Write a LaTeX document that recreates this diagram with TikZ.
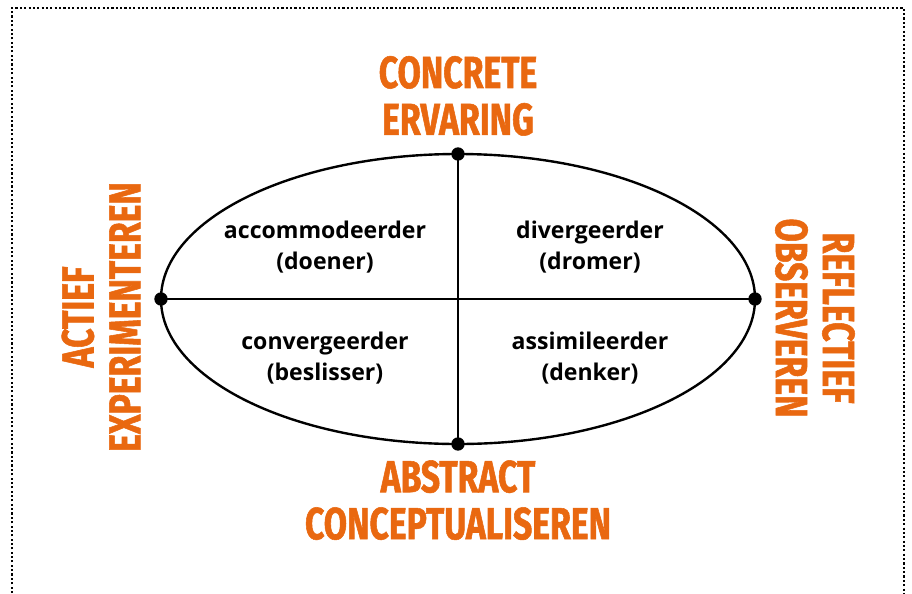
\documentclass[tikz,border=0pt]{standalone}
\usepackage{fontspec}
\setmainfont{Open Sans}
\newfontfamily\modefont[FakeStretch=0.75, FakeBold=1.2]{Fira Sans}
\definecolor{kolborange}{RGB}{233,104,16}
\tikzset{
  mode/.style={font=\modefont\bfseries\fontsize{32}{33.4}\selectfont, text=kolborange, align=center, inner sep=0pt},
  leerstijl/.style={font=\bfseries\fontsize{16.4}{22}\selectfont, align=center, inner sep=0pt},
  pole/.style={circle, fill=black, inner sep=0pt, minimum size=9.5pt},
}
\begin{document}
\begin{tikzpicture}[x=0.025cm, y=-0.025cm]
    \useasboundingbox (0,0) rectangle (912,593);
    % kader
    \draw [line width=1.5pt, dash pattern=on 1.5pt off 1.6pt]
      (12,593) -- (12,8) -- (904,8) -- (904,593);
    % cirkel van Kolb
    \def\cx{458}
    \def\cy{299}
    \draw [line width=1.7pt] (\cx,\cy) ellipse [x radius=297, y radius=145];
    \node [pole] (A0_1) at (\cx, 154) {};
    \node [pole] (A1_0) at (161, \cy) {};
    \node [pole] (A1_2) at (755, \cy) {};
    \node [pole] (A2_1) at (\cx, 444) {};
    \path [line width=1.7pt] (A0_1.center) edge (A2_1.center);
    \path [line width=1.7pt] (A1_0.center) edge (A1_2.center);
    % leerfasen
    \node [mode, anchor=south] (ce) at (\cx, 136) {CONCRETE\\ERVARING};
    \node [mode, anchor=north] (ac) at (\cx, 460) {ABSTRACT\\CONCEPTUALISEREN};
    \node [mode, rotate=90] (ae) at (101, 317) {ACTIEF\\EXPERIMENTEREN};
    \node [mode, rotate=-90] (ro) at (815, 318) {REFLECTIEF\\OBSERVEREN};
    % leerstijlen
    \node [leerstijl] (acc) at (325, 247) {accommodeerder\\(doener)};
    \node [leerstijl] (div) at (590, 247) {divergeerder\\(dromer)};
    \node [leerstijl] (con) at (325, 358) {convergeerder\\(beslisser)};
    \node [leerstijl] (ass) at (590, 358) {assimileerder\\(denker)};
  \end{tikzpicture}
\end{document}
